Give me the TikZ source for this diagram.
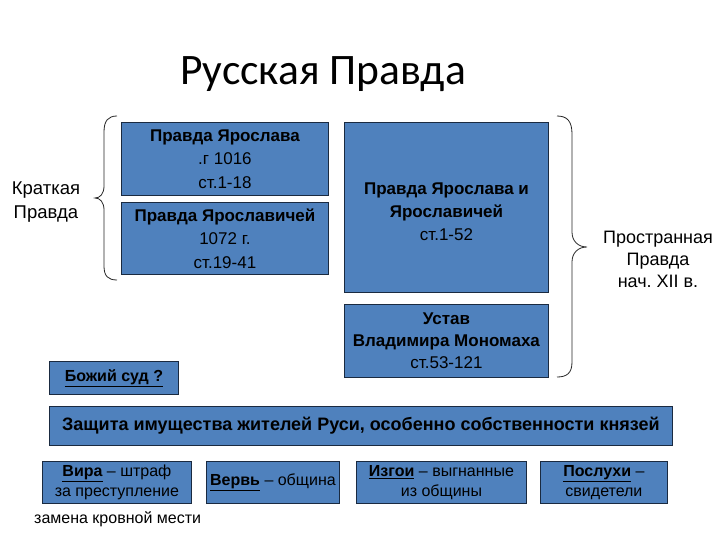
\documentclass[tikz,border=0pt]{standalone}
\usepackage{fontspec}
\setmainfont{Liberation Sans}
\newfontfamily\titlefont{Carlito}
\definecolor{boxfill}{HTML}{4F81BD}
\definecolor{boxline}{HTML}{1A2A40}
\frenchspacing
\begin{document}
\begin{tikzpicture}[x=1pt,y=-1pt,
  bx/.style={draw=boxline,line width=0.9pt,fill=boxfill,inner sep=0pt,align=center,anchor=north west,text=black},
  lbl/.style={align=center,inner sep=0pt,text=black},
  brc/.style={line width=0.8pt,black!85}]
\useasboundingbox (0,0) rectangle (720,540);
\fill[white] (0,0) rectangle (720,540);
\node[lbl,anchor=base] (title) at (323,85) {\titlefont\fontsize{43.5}{50}\selectfont Русская Правда};
\node[bx,minimum width=207pt,minimum height=73pt,font=\fontsize{17}{23.5}\selectfont] (b1) at (121,122) {\textbf{Правда Ярослава}\\.г 1016\\ст.1-18};
\node[bx,minimum width=207pt,minimum height=72pt,font=\fontsize{17}{23.5}\selectfont] (b2) at (121,202) {\textbf{Правда Ярославичей}\\1072 г.\\ст.19-41};
\node[bx,minimum width=204pt,minimum height=170pt,font=\fontsize{17}{23}\selectfont] (b3) at (344,122) {\\[-2pt]\textbf{Правда Ярослава и}\\\textbf{Ярославичей}\\ст.1-52};
\node[bx,minimum width=204pt,minimum height=73pt,font=\fontsize{17}{22}\selectfont] (b4) at (344,304) {\textbf{Устав}\\\textbf{Владимира Мономаха}\\ст.53-121};
\node[lbl,font=\fontsize{18.5}{23.5}\selectfont] (kr) at (46,202) {Краткая\\Правда};
\node[lbl,font=\fontsize{18}{22}\selectfont] (pr) at (658,259) {Пространная\\Правда\\нач. XII в.};
% braces
\draw[brc] (117,116) .. controls (108,116) and (104,121) .. (104,132) -- (104,186) .. controls (104,194) and (100,198) .. (95,198) .. controls (100,198) and (104,202) .. (104,210) -- (104,266) .. controls (104,276) and (108,280) .. (117,280);
\draw[brc] (557,116) .. controls (567,116) and (572,121) .. (572,134) -- (572,232) .. controls (572,241) and (578,247) .. (587,247) .. controls (578,247) and (572,253) .. (572,262) -- (572,362) .. controls (572,373) and (567,377) .. (557,377);
\node[bx,minimum width=129pt,minimum height=33pt,font=\fontsize{16}{18}\selectfont] (bs) at (49,361) {\textbf{\underline{Божий суд ?}}};
\node[bx,minimum width=623pt,minimum height=39pt,font=\fontsize{18}{22}\selectfont] (zs) at (49,406) {\textbf{Защита имущества жителей Руси, особенно собственности князей}};
\node[bx,minimum width=149pt,minimum height=42pt,font=\fontsize{16}{20}\selectfont] (vira) at (42,461) {\textbf{\underline{Вира}} – штраф\\за преступление};
\node[bx,minimum width=133pt,minimum height=42pt,font=\fontsize{16}{20}\selectfont] (verv) at (206,461) {\textbf{\underline{Вервь}} – община};
\node[bx,minimum width=170pt,minimum height=42pt,font=\fontsize{16}{20}\selectfont] (izg) at (356,461) {\textbf{\underline{Изгои}} – выгнанные\\из общины};
\node[bx,minimum width=127pt,minimum height=42pt,font=\fontsize{16}{20}\selectfont] (posl) at (540,461) {\textbf{\underline{Послухи}} –\\свидетели};
\node[lbl,anchor=base west,font=\fontsize{16}{20}\selectfont] (zam) at (34,523) {замена кровной мести};
\end{tikzpicture}
\end{document}
